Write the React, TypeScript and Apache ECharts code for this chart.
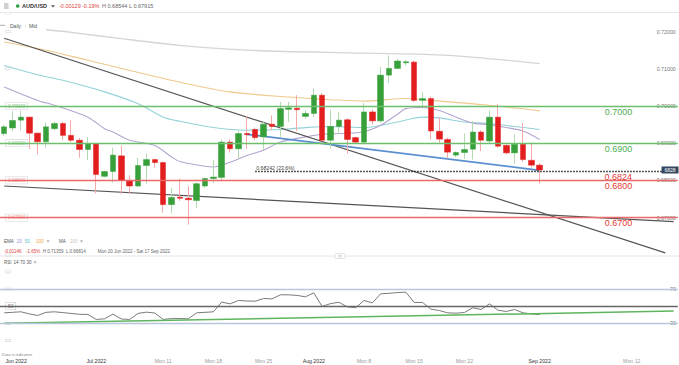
import React, { useEffect, useRef } from 'react';
import * as echarts from 'echarts';

const FONT = '"Liberation Sans", Arial, Helvetica, sans-serif';

const dates = [
  '2022-06-19', '2022-06-20', '2022-06-21', '2022-06-22', '2022-06-23', '2022-06-24',
  '2022-06-26', '2022-06-27', '2022-06-28', '2022-06-29', '2022-06-30', '2022-07-01',
  '2022-07-03', '2022-07-04', '2022-07-05', '2022-07-06', '2022-07-07', '2022-07-08',
  '2022-07-10', '2022-07-11', '2022-07-12', '2022-07-13', '2022-07-14', '2022-07-15',
  '2022-07-17', '2022-07-18', '2022-07-19', '2022-07-20', '2022-07-21', '2022-07-22',
  '2022-07-24', '2022-07-25', '2022-07-26', '2022-07-27', '2022-07-28', '2022-07-29',
  '2022-07-31', '2022-08-01', '2022-08-02', '2022-08-03', '2022-08-04', '2022-08-05',
  '2022-08-07', '2022-08-08', '2022-08-09', '2022-08-10', '2022-08-11', '2022-08-12',
  '2022-08-14', '2022-08-15', '2022-08-16', '2022-08-17', '2022-08-18', '2022-08-19',
  '2022-08-21', '2022-08-22', '2022-08-23', '2022-08-24', '2022-08-25', '2022-08-26',
  '2022-08-28', '2022-08-29', '2022-08-30', '2022-08-31', '2022-09-01',
  '2022-09-02', '2022-09-03', '2022-09-04', '2022-09-05', '2022-09-06', '2022-09-07',
  '2022-09-08', '2022-09-09', '2022-09-10', '2022-09-11', '2022-09-12', '2022-09-13',
  '2022-09-14', '2022-09-15', '2022-09-16', '2022-09-17',
];

const tickDates = ['2022-06-19', '2022-07-01', '2022-07-11', '2022-07-18', '2022-07-25', '2022-08-01', '2022-08-08', '2022-08-15', '2022-08-22', '2022-09-01', '2022-09-12'];
const tickTexts = ['Jun 2022', 'Jul 2022', 'Mon 11', 'Mon 18', 'Mon 25', 'Aug 2022', 'Mon 8', 'Mon 15', 'Mon 22', 'Sep 2022', 'Mon 12'];

const opens = [0.6926, 0.6941, 0.6962, 0.6970, 0.6927, 0.6904, 0.6939, 0.6953, 0.6921, 0.6908, 0.6883, 0.6899, 0.6811, 0.6824, 0.6866, 0.6800, 0.6785, 0.6840, 0.6856, 0.6848, 0.6735, 0.6755, 0.6752, 0.6746, 0.6785, 0.6805, 0.6808, 0.6903, 0.6885, 0.6926, 0.6937, 0.6917, 0.6951, 0.6945, 0.6991, 0.6994, 0.6972, 0.6980, 0.7029, 0.6908, 0.6945, 0.6963, 0.6915, 0.6903, 0.6984, 0.6960, 0.7083, 0.7101, 0.7116, 0.7118, 0.7015, 0.7020, 0.6932, 0.6910, 0.6868, 0.6875, 0.6884, 0.6930, 0.6906, 0.6970, 0.6894, 0.6874, 0.6897, 0.6854, 0.6841];
const closes = [0.6944, 0.6961, 0.6970, 0.6927, 0.6904, 0.6944, 0.6953, 0.6921, 0.6908, 0.6883, 0.6899, 0.6816, 0.6824, 0.6868, 0.6800, 0.6785, 0.6840, 0.6856, 0.6848, 0.6735, 0.6754, 0.6752, 0.6748, 0.6791, 0.6805, 0.6809, 0.6903, 0.6885, 0.6926, 0.6923, 0.6915, 0.6951, 0.6945, 0.6993, 0.6995, 0.6990, 0.6980, 0.7029, 0.6908, 0.6945, 0.6962, 0.6910, 0.6903, 0.6984, 0.6960, 0.7083, 0.7101, 0.7121, 0.7119, 0.7015, 0.7020, 0.6933, 0.6911, 0.6876, 0.6875, 0.6883, 0.6930, 0.6908, 0.6970, 0.6892, 0.6874, 0.6897, 0.6856, 0.6841, 0.6828];
const lows = [0.6920, 0.6932, 0.6935, 0.6884, 0.6870, 0.6888, 0.6935, 0.6908, 0.6903, 0.6861, 0.6854, 0.6765, 0.6808, 0.6794, 0.6763, 0.6763, 0.6782, 0.6791, 0.6834, 0.6713, 0.6711, 0.6745, 0.6681, 0.6725, 0.6780, 0.6793, 0.6800, 0.6875, 0.6858, 0.6885, 0.6908, 0.6881, 0.6935, 0.6917, 0.6957, 0.6933, 0.6965, 0.6970, 0.6905, 0.6885, 0.6925, 0.6872, 0.6898, 0.6897, 0.6950, 0.6955, 0.7062, 0.7100, 0.7108, 0.7011, 0.6993, 0.6910, 0.6901, 0.6859, 0.6862, 0.6858, 0.6856, 0.6879, 0.6900, 0.6888, 0.6870, 0.6845, 0.6850, 0.6835, 0.67915];
const highs = [0.6950, 0.6987, 0.6988, 0.6972, 0.6929, 0.6956, 0.6958, 0.6958, 0.6963, 0.6914, 0.6917, 0.6900, 0.6826, 0.6888, 0.6894, 0.6814, 0.6861, 0.6872, 0.6858, 0.6851, 0.6780, 0.6805, 0.6784, 0.6795, 0.6808, 0.6854, 0.6910, 0.6910, 0.6935, 0.6972, 0.6942, 0.6958, 0.6975, 0.7011, 0.7011, 0.7029, 0.6990, 0.7047, 0.7035, 0.6990, 0.6985, 0.6967, 0.6918, 0.7008, 0.6990, 0.7105, 0.7136, 0.7128, 0.7123, 0.7122, 0.7038, 0.7025, 0.6968, 0.6915, 0.6878, 0.6926, 0.6960, 0.6935, 0.6988, 0.7006, 0.6897, 0.6924, 0.6954, 0.6901, 0.6846];

const ema20 = [[0, 0.7051], [4, 0.7015], [6, 0.7002], [10, 0.6970], [12, 0.6939], [13, 0.6930], [15, 0.6908], [18, 0.6894], [20, 0.6863], [21, 0.6851], [24, 0.6838], [25, 0.6836], [27, 0.6849], [29, 0.6867], [31, 0.6881], [33, 0.6903], [36, 0.6917], [38, 0.6924], [40, 0.6926], [43, 0.6931], [45, 0.6948], [47, 0.6978], [48, 0.6993], [50, 0.6996], [52, 0.6988], [54, 0.6970], [56, 0.6954], [58, 0.6950], [60, 0.6942], [62, 0.6933], [64, 0.6910]];
const ema50 = [[0, 0.7109], [4, 0.7084], [7, 0.7069], [12, 0.7038], [16, 0.7006], [19, 0.6970], [21, 0.6959], [25, 0.6942], [29, 0.6935], [33, 0.6937], [36, 0.6942], [39, 0.6945], [43, 0.6942], [47, 0.6957], [50, 0.6970], [52, 0.6968], [55, 0.6957], [58, 0.6953], [61, 0.6945], [64, 0.6937]];
const ema100 = [[0, 0.7172], [5, 0.7150], [10, 0.7123], [21, 0.7064], [27, 0.7038], [34, 0.7024], [39, 0.7017], [43, 0.7013], [48, 0.7020], [51, 0.7015], [57, 0.7004], [64, 0.6987]];
const ma200 = [[5, 0.7205], [8, 0.7198], [14, 0.7181], [21, 0.7163], [29, 0.7150], [43, 0.7142], [53, 0.7136], [64, 0.7114]];

const rsi = [42.2, 42.8, 43.4, 41.0, 39.1, 42.8, 43.4, 42.5, 41.5, 40.5, 40.3, 34.5, 35.2, 40.7, 35.0, 34.5, 41.5, 43.0, 42.0, 34.5, 35.5, 35.5, 35.2, 42.2, 42.8, 43.4, 54.7, 52.7, 56.6, 56.0, 55.8, 58.9, 58.5, 63.2, 63.2, 62.5, 60.9, 65.5, 49.6, 53.0, 54.5, 49.2, 48.1, 56.6, 53.9, 64.4, 65.0, 65.8, 66.3, 54.3, 54.3, 46.5, 44.9, 42.2, 41.8, 42.6, 48.1, 46.1, 52.7, 45.3, 43.8, 46.1, 42.2, 41.0, 40.3];

const steepTrend = [[0, 0.7182], [79, 0.6605]];
const shallowTrend = [[0, 0.6785], [80, 0.6689]];
const blueTrend = [[29, 0.6924], [64, 0.6827]];
const rsiTrend = [[0, 30], [80, 44.2]];

const levelValues = [0.70, 0.69, 0.68, 0.67];
const levelLabels = ['0.7000', '0.6900', '0.6800', '0.6700'];
const fibValue = 0.68242;
const fibStart = 30;
const fibLabel = '0.68242 (23.6%)';
const fibShort = '0.6824';
const lastPrice = 0.6828;
const lastPriceLabel = '6828';

const G_LINE = '#6cbf6c';
const R_LINE = '#ea6a6a';
const G_TEXT = '#4caf50';
const R_TEXT = '#e53935';

const near = (a: number, b: number) => Math.abs(a - b) < 1e-6;

export default function App() {
  const ref = useRef<HTMLDivElement>(null);
  useEffect(() => {
    document.body.style.margin = '0';
    const chart = echarts.init(ref.current!, undefined, { renderer: 'svg' });
    const ohlc = opens.map((o, i) => [o, closes[i], lows[i], highs[i]]);
    const bodies = opens.map((o, i) => [o, closes[i], Math.min(o, closes[i]), Math.max(o, closes[i])]);
    const isLevel = (v: number) => levelValues.some((l) => near(l, v));
    const levelIsGreen = (v: number) => v >= 0.685;

    const txt = (text: string, x: number, y: number, color: string, size = 4.5, weight = 'normal') => ({
      type: 'text', x, y, silent: true,
      style: { text, fill: color, fontSize: size, fontFamily: FONT, fontWeight: weight, verticalAlign: 'middle' },
    });

    const option: any = {
      animation: false,
      backgroundColor: '#ffffff',
      textStyle: { fontFamily: FONT },
      grid: [
        { left: -4.2, right: 1.2, top: 13, height: 241.8 },
        { left: -4.2, right: 1.2, top: 271.85, height: 68.6 },
      ],
      xAxis: [
        { type: 'category', gridIndex: 0, data: dates, boundaryGap: true, axisLine: { show: false }, axisTick: { show: false }, axisLabel: { show: false }, splitLine: { show: false } },
        {
          type: 'category', gridIndex: 1, data: dates, boundaryGap: true,
          axisLine: { show: false }, axisTick: { show: false }, splitLine: { show: false },
          axisLabel: {
            interval: (i: number) => tickDates.includes(dates[i]),
            margin: 18,
            fontSize: 5.2,
            color: (v: string) => (/20/.test(tickTexts[tickDates.indexOf(v)] || '') ? '#333' : '#999'),
            formatter: (v: string) => {
              const k = tickDates.indexOf(v);
              if (k < 0) return '';
              return k === 0 ? '{a|' + tickTexts[k] + '}' : tickTexts[k];
            },
            rich: { a: { padding: [0, 0, 0, 24], fontSize: 5.2, color: '#333', fontFamily: FONT } },
          },
        },
      ],
      yAxis: [
        {
          type: 'value', gridIndex: 0, position: 'right', min: 0.66, max: 0.725, interval: 0.01,
          splitLine: { show: false }, axisLine: { show: false }, axisTick: { show: false },
          axisLabel: { inside: true, margin: 2, fontSize: 5.3, color: '#777', formatter: (v: number) => (v > 0.665 && v < 0.7205 ? v.toFixed(5) : '') },
        },
        {
          type: 'value', gridIndex: 0, position: 'left', min: 0.66, max: 0.725, interval: 0.01,
          splitLine: { show: false }, axisLine: { show: false }, axisTick: { show: false },
          axisLabel: {
            inside: true, margin: 6, fontSize: 4.8,
            formatter: (v: number) => (isLevel(v) ? v.toFixed(5) : ''),
            color: (v: any) => (levelIsGreen(Number(v)) ? '#8cc48c' : '#ee9a9a'),
            backgroundColor: '#fff', borderColor: '#d8d8d8', borderWidth: 0.6, padding: [1, 2, 0.5, 2],
          },
        },
        {
          type: 'value', gridIndex: 1, position: 'right', min: 10, max: 90, interval: 20,
          splitLine: { show: false }, axisLine: { show: false }, axisTick: { show: false },
          axisLabel: { inside: true, margin: 2, fontSize: 5.2, color: '#777', formatter: (v: number) => (near(v, 70) || near(v, 30) ? String(v) : '') },
        },
        {
          type: 'value', gridIndex: 1, position: 'left', min: 10, max: 90, interval: 20,
          splitLine: { show: false }, axisLine: { show: false }, axisTick: { show: false },
          axisLabel: {
            inside: true, margin: 6, fontSize: 4.8, color: '#777',
            formatter: (v: number) => (near(v, 50) ? '50' : ''),
            backgroundColor: '#fff', borderColor: '#cfcfcf', borderWidth: 0.6, padding: [1, 2, 0.5, 2],
          },
        },
      ],
      series: [
        { type: 'line', xAxisIndex: 0, yAxisIndex: 0, data: ma200, showSymbol: false, smooth: 0.3, lineStyle: { color: '#d5d5d5', width: 1.3 }, silent: true, z: 1 },
        { type: 'line', xAxisIndex: 0, yAxisIndex: 0, data: ema100, showSymbol: false, smooth: 0.3, lineStyle: { color: '#f0c98c', width: 1.1 }, silent: true, z: 1 },
        { type: 'line', xAxisIndex: 0, yAxisIndex: 0, data: ema50, showSymbol: false, smooth: 0.3, lineStyle: { color: '#93d3d8', width: 1.1 }, silent: true, z: 1 },
        { type: 'line', xAxisIndex: 0, yAxisIndex: 0, data: ema20, showSymbol: false, smooth: 0.3, lineStyle: { color: '#b4a5cf', width: 1.1 }, silent: true, z: 1 },
        { type: 'line', xAxisIndex: 0, yAxisIndex: 0, data: steepTrend, showSymbol: false, lineStyle: { color: '#555', width: 1.2 }, silent: true, z: 2 },
        { type: 'line', xAxisIndex: 0, yAxisIndex: 0, data: shallowTrend, showSymbol: false, lineStyle: { color: '#555', width: 1.2 }, silent: true, z: 2 },
        { type: 'line', xAxisIndex: 0, yAxisIndex: 0, data: blueTrend, showSymbol: false, lineStyle: { color: '#5a8fd0', width: 1.8 }, silent: true, z: 2 },
        {
          type: 'candlestick', xAxisIndex: 0, yAxisIndex: 0, data: ohlc, barWidth: 1, silent: true, z: 3,
          itemStyle: { color: '#b2dbb2', color0: '#f6a9a9', borderColor: '#b2dbb2', borderColor0: '#f6a9a9', borderWidth: 1 },
        },
        {
          type: 'candlestick', xAxisIndex: 0, yAxisIndex: 0, data: bodies, barWidth: 6, silent: true, z: 4,
          itemStyle: { color: '#37a03a', color0: '#e31e1e', borderColor: '#37a03a', borderColor0: '#e31e1e', borderWidth: 0.5 },
          markLine: {
            symbol: 'none', silent: true, animation: false,
            data: [
              ...levelValues.map((v, i) => ({
                yAxis: v,
                lineStyle: { color: levelIsGreen(v) ? G_LINE : R_LINE, width: 1.3, type: 'solid' },
                label: { show: true, position: 'insideEndBottom', formatter: levelLabels[i], color: levelIsGreen(v) ? G_TEXT : R_TEXT, fontSize: 9, distance: 1, padding: [0, 44.5, 0, 0], fontFamily: FONT },
              })),
              [
                { coord: [dates[fibStart], fibValue], lineStyle: { color: '#222', width: 1.3, type: [1.5, 1.5] }, label: { show: true, position: 'insideStartTop', formatter: fibLabel, color: '#444', fontSize: 5.2, distance: 1, fontFamily: FONT } },
                { coord: [dates[dates.length - 1], fibValue] },
              ],
            ],
          },
          markPoint: {
            silent: true, animation: false,
            data: [{
              coord: [dates[dates.length - 1], lastPrice], symbol: 'rect', symbolSize: [17, 7], symbolOffset: [-3.6, 0],
              itemStyle: { color: '#34475f' },
              label: { show: true, position: 'inside', formatter: lastPriceLabel, color: '#fff', fontSize: 5, fontFamily: FONT },
            }],
          },
        },
        {
          type: 'line', xAxisIndex: 0, yAxisIndex: 0, data: [], silent: true,
          markLine: {
            symbol: 'none', silent: true, animation: false,
            data: [[
              { coord: [dates[fibStart], fibValue], lineStyle: { color: 'rgba(0,0,0,0)', width: 0.1 }, label: { show: true, position: 'insideEndBottom', formatter: fibShort, color: R_TEXT, fontSize: 9, distance: 1, padding: [0, 40.6, 0, 0], fontFamily: FONT } },
              { coord: [dates[dates.length - 1], fibValue] },
            ]],
          },
        },
        {
          type: 'line', xAxisIndex: 1, yAxisIndex: 2, data: rsi, showSymbol: false, lineStyle: { color: '#7a7a7a', width: 1 }, silent: true, z: 3,
          markLine: {
            symbol: 'none', silent: true, animation: false, label: { show: false },
            data: [
              { yAxis: 70, lineStyle: { color: '#b7c6dc', width: 1.3, type: 'solid' } },
              { yAxis: 30, lineStyle: { color: '#b7c6dc', width: 1.3, type: 'solid' } },
              { yAxis: 50, lineStyle: { color: '#666', width: 1.3, type: 'solid' } },
            ],
          },
        },
        { type: 'line', xAxisIndex: 1, yAxisIndex: 2, data: rsiTrend, showSymbol: false, lineStyle: { color: '#5fb55f', width: 1.5 }, silent: true, z: 4 },
      ],
      graphic: [
        { type: 'line', silent: true, shape: { x1: 0, y1: 12.5, x2: 679, y2: 12.5 }, style: { stroke: '#e6e6e6', lineWidth: 1 } },
        { type: 'line', silent: true, shape: { x1: 4, y1: 4, x2: 8.5, y2: 4 }, style: { stroke: '#888', lineWidth: 0.8 } },
        { type: 'line', silent: true, shape: { x1: 4, y1: 6, x2: 8.5, y2: 6 }, style: { stroke: '#888', lineWidth: 0.8 } },
        { type: 'line', silent: true, shape: { x1: 4, y1: 8, x2: 8.5, y2: 8 }, style: { stroke: '#888', lineWidth: 0.8 } },
        { type: 'circle', silent: true, shape: { cx: 17.7, cy: 6, r: 1.8 }, style: { fill: '#2e9e3e' } },
        txt('AUD/USD', 22, 6.2, '#333', 5.5, 'bold'),
        { type: 'polygon', silent: true, shape: { points: [[51, 5.2], [55, 5.2], [53, 7.6]] }, style: { fill: '#555' } },
        txt('-0.00129', 59, 6.2, '#e0403c', 5.5),
        txt('-0.19%', 82, 6.2, '#e0403c', 5.5),
        txt('H 0.68544', 102, 6.2, '#666', 5.5),
        txt('L 0.67915', 129, 6.2, '#666', 5.5),
        { type: 'rect', silent: true, shape: { x: 0, y: 21, width: 39, height: 9 }, style: { fill: '#fff' }, z: 50 },
        { type: 'line', silent: true, shape: { x1: 0, y1: 25.3, x2: 5, y2: 25.3 }, style: { stroke: '#999', lineWidth: 0.8 }, z: 51 },
        { ...txt('Daily', 10, 25.7, '#555', 5), z: 51 },
        { ...txt('·', 24.5, 25.7, '#555', 5), z: 51 },
        { ...txt('Mid', 29, 25.7, '#555', 5), z: 51 },
        txt('EMA', 4, 241, '#555'),
        txt('20', 16.7, 241, '#9f8fcf'),
        txt('50', 24.7, 241, '#4fc2c8'),
        txt('100', 36, 241, '#f0a040'),
        txt('×', 46.5, 241, '#888', 5),
        txt('MA', 59, 241, '#555'),
        txt('200', 70, 241, '#c8c8c8'),
        txt('×', 80, 241, '#888', 5),
        txt('-0.01146', 4, 251, '#e0403c'),
        txt('-1.65%', 26, 251, '#e0403c'),
        txt('H 0.71359', 42.7, 251, '#666'),
        txt('L 0.66814', 66, 251, '#666'),
        txt('Mon 20 Jun 2022 - Sat 17 Sep 2022', 97.7, 251, '#666'),
        { type: 'line', silent: true, shape: { x1: 0, y1: 256, x2: 679, y2: 256 }, style: { stroke: '#e4e4e4', lineWidth: 1 } },
        { type: 'rect', silent: true, shape: { x: 335, y: 253.5, width: 10, height: 5, r: 1 }, style: { fill: '#fff', stroke: '#cfcfcf', lineWidth: 0.6 } },
        { type: 'line', silent: true, shape: { x1: 338, y1: 255.4, x2: 342, y2: 255.4 }, style: { stroke: '#aaa', lineWidth: 0.5 } },
        { type: 'line', silent: true, shape: { x1: 338, y1: 256.8, x2: 342, y2: 256.8 }, style: { stroke: '#aaa', lineWidth: 0.5 } },
        txt('RSI', 4, 262, '#555'),
        txt('14', 13.5, 262, '#555'),
        txt('70', 20, 262, '#555'),
        txt('30', 26.5, 262, '#555'),
        txt('×', 33.5, 262, '#888', 5),
        txt('Data is indicative', 2, 354.5, '#888', 4),
      ],
    };
    chart.setOption(option);
    return () => chart.dispose();
  }, []);
  return <div ref={ref} style={{ width: 679, height: 365 }} />;
}
